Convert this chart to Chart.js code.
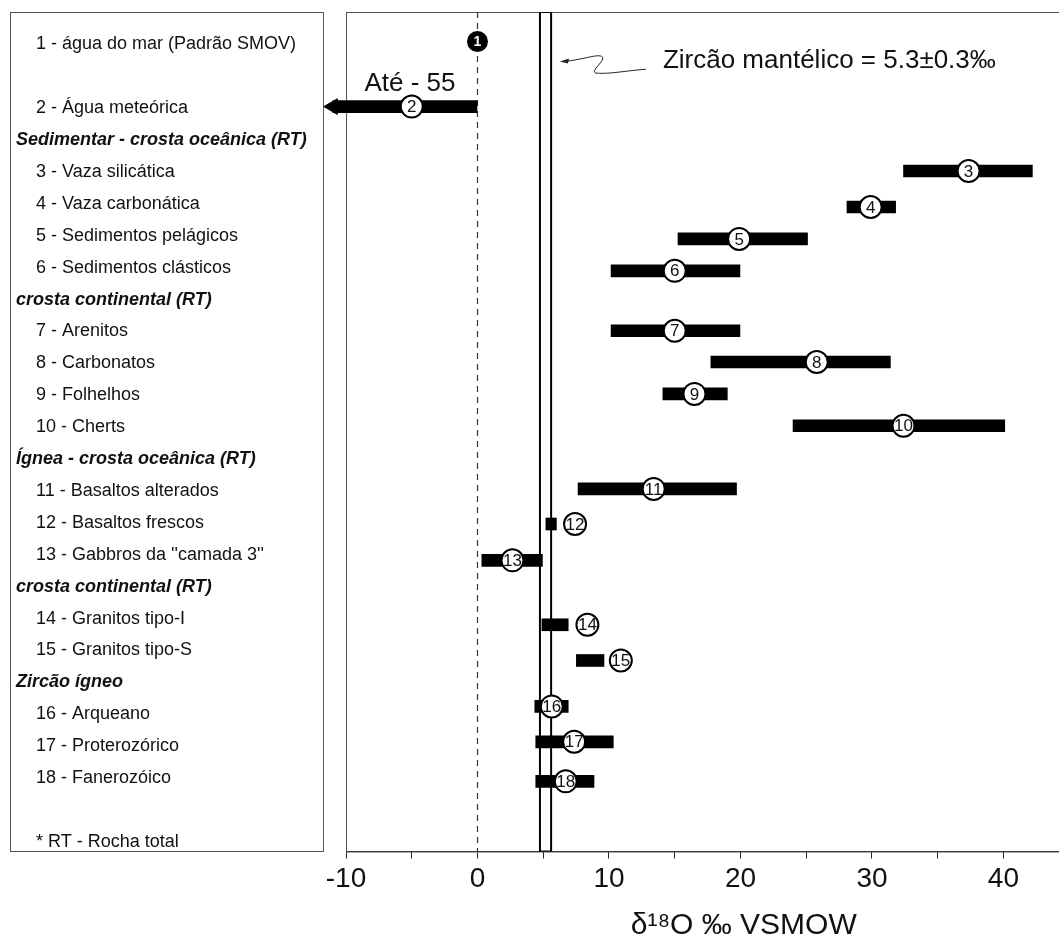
<!DOCTYPE html>
<html>
<head>
<meta charset="utf-8">
<script src="https://cdn.jsdelivr.net/npm/chart.js@4/dist/chart.umd.min.js"></script>
<style>
  html, body { margin: 0; padding: 0; background: #fff; overflow: hidden; }
  #wrap { width: 1059px; height: 938px; overflow: hidden; }
</style>
</head>
<body>
<div id="wrap"><canvas id="chart" width="1145" height="938"></canvas></div>
<script>
// Painel da esquerda: linha de cada rótulo, texto e se é cabeçalho
const labelRows = [0, 2, 3, 4, 5, 6, 7, 8, 9, 10, 11, 12, 13, 14, 15, 16, 17, 18, 19, 20, 21, 22, 23, 25];
const labelTexts = [
    '1 - água do mar (Padrão SMOV)', '2 - Água meteórica',
    'Sedimentar - crosta oceânica (RT)',
    '3 - Vaza silicática', '4 - Vaza carbonática', '5 - Sedimentos pelágicos', '6 - Sedimentos clásticos',
    'crosta continental (RT)',
    '7 - Arenitos', '8 - Carbonatos', '9 - Folhelhos', '10 - Cherts',
    'Ígnea - crosta oceânica (RT)',
    '11 - Basaltos alterados', '12 - Basaltos frescos', "13 - Gabbros da ''camada 3''",
    'crosta continental (RT)',
    '14 - Granitos tipo-I', '15 - Granitos tipo-S',
    'Zircão ígneo',
    '16 - Arqueano', '17 - Proterozórico', '18 - Fanerozóico',
    '* RT - Rocha total'
];
const labelIsHeader = [0, 0, 1, 0, 0, 0, 0, 1, 0, 0, 0, 0, 1, 0, 0, 0, 1, 0, 0, 1, 0, 0, 0, 0];

// Amostras 1–18: linha no gráfico, intervalo de δ18O e valor típico (círculo)
const sampleNumbers = ['1', '2', '3', '4', '5', '6', '7', '8', '9', '10', '11', '12', '13', '14', '15', '16', '17', '18'];
const sampleRows = [-0.09, 1.95, 3.97, 5.1, 6.1, 7.1, 8.98, 9.96, 10.96, 11.96, 13.94, 15.04, 16.18, 18.2, 19.32, 20.76, 21.87, 23.11];
const rangeLow  = [null, -11.0, 32.4, 28.1, 15.25, 10.16, 10.16, 17.75, 14.1, 24.0, 7.65, 5.2, 0.33, 4.9, 7.52, 4.36, 4.43, 4.43];
const rangeHigh = [null, 0, 42.2, 31.8, 25.1, 19.96, 19.96, 31.4, 19.0, 40.1, 19.7, 6.0, 4.94, 6.9, 9.62, 6.9, 10.33, 8.86];
const typical   = [0, -5, 37.35, 29.9, 19.9, 15.0, 15.0, 25.8, 16.5, 32.4, 13.4, 7.42, 2.66, 8.36, 10.9, 5.65, 7.35, 6.71];

// Zircão mantélico (faixa vertical)
const mantleZircon = [4.75, 5.6];
const rowMin = -1.016, rowMax = 25.31;

const FONT = "'Liberation Sans', Arial, sans-serif";

const bars = [];
sampleRows.forEach((r, i) => {
    if (rangeLow[i] !== null) bars.push({ x: [rangeLow[i], rangeHigh[i]], y: r });
});
const circles = sampleRows.map((r, i) => ({ x: typical[i], y: r }));

// Desenha o painel, o quadro, os números nos círculos e as anotações
const panelPlugin = {
    id: 'panel',
    beforeDatasetsDraw(chart) {
        const { ctx, chartArea } = chart;
        ctx.save();
        ctx.strokeStyle = '#555';
        ctx.lineWidth = 1;
        ctx.strokeRect(chartArea.left + 0.5, chartArea.top + 0.5, chartArea.right - chartArea.left, chartArea.bottom - chartArea.top);
        ctx.restore();
    },
    afterDatasetsDraw(chart) {
        const { ctx } = chart;
        const xs = chart.scales.x, ys = chart.scales.y;
        const rowPx = r => 44.4 + r * 31.9;
        ctx.save();
        // caixa dos rótulos
        ctx.strokeStyle = '#555';
        ctx.lineWidth = 1;
        ctx.strokeRect(10.5, 12.5, 313, 839);
        ctx.fillStyle = '#111';
        ctx.textBaseline = 'middle';
        ctx.textAlign = 'left';
        labelTexts.forEach((t, i) => {
            const y = rowPx(labelRows[i]);
            if (labelIsHeader[i]) {
                ctx.font = 'italic bold 18px ' + FONT;
                ctx.fillText(t, 16, y);
            } else {
                ctx.font = '18px ' + FONT;
                ctx.fillText(t, 36, y);
            }
        });
        // números nos círculos
        const meta = chart.getDatasetMeta(3);
        ctx.textAlign = 'center';
        meta.data.forEach((pt, i) => {
            ctx.font = (i === 0 ? 'bold 14px ' : '17px ') + FONT;
            ctx.fillStyle = i === 0 ? '#fff' : '#111';
            ctx.fillText(sampleNumbers[i], pt.x, pt.y + 1);
        });
        // anotação do zircão mantélico
        ctx.fillStyle = '#111';
        ctx.textAlign = 'left';
        ctx.font = '26px ' + FONT;
        ctx.fillText('Zircão mantélico = 5.3±0.3‰', xs.getPixelForValue(14.1), ys.getPixelForValue(0.5));
        ctx.fillText('Até - 55', xs.getPixelForValue(-8.6), ys.getPixelForValue(1.25));
        // seta ondulada
        const P = (x, y) => [xs.getPixelForValue(x), ys.getPixelForValue(y)];
        const a = P(6.35, 0.54), b = P(9.5, 0.33), c = P(9.0, 0.9), d = P(12.8, 0.78);
        ctx.strokeStyle = '#222';
        ctx.lineWidth = 1;
        ctx.beginPath();
        ctx.moveTo(a[0], a[1]);
        ctx.bezierCurveTo(a[0] + 20, a[1] - 1, b[0] - 4, b[1] - 2, b[0], b[1] + 2);
        ctx.bezierCurveTo(b[0] + 3, b[1] + 6, c[0] - 6, c[1] - 2, c[0], c[1]);
        ctx.bezierCurveTo(c[0] + 15, c[1] + 1, d[0] - 25, d[1] + 2, d[0], d[1]);
        ctx.stroke();
        ctx.fillStyle = '#222';
        ctx.beginPath();
        ctx.moveTo(a[0] - 1, a[1]);
        ctx.lineTo(a[0] + 8, a[1] - 3);
        ctx.lineTo(a[0] + 7, a[1] + 2);
        ctx.closePath();
        ctx.fill();
        ctx.restore();
    }
};

const ctx = document.getElementById('chart').getContext('2d');

new Chart(ctx, {
    type: 'bar',
    data: {
        datasets: [
            {
                // linha tracejada em 0
                type: 'line',
                data: [{ x: 0, y: rowMin }, { x: 0, y: rowMax }],
                borderColor: '#333',
                borderWidth: 1.2,
                borderDash: [6, 5],
                pointRadius: 0,
                order: 5
            },
            {
                // faixa do zircão mantélico
                type: 'line',
                data: [
                    { x: mantleZircon[0], y: rowMin }, { x: mantleZircon[1], y: rowMin },
                    { x: mantleZircon[1], y: rowMax }, { x: mantleZircon[0], y: rowMax },
                    { x: mantleZircon[0], y: rowMin }
                ],
                borderColor: '#000',
                borderWidth: 2,
                pointRadius: 0,
                fill: false,
                order: 4
            },
            {
                type: 'bar',
                indexAxis: 'y',
                data: bars,
                backgroundColor: '#000',
                barThickness: 12,
                clip: false,
                order: 3
            },
            {
                type: 'scatter',
                data: circles,
                pointRadius: circles.map((p, i) => i === 0 ? 9.5 : 11),
                pointBackgroundColor: circles.map((p, i) => i === 0 ? '#000' : '#fff'),
                pointBorderColor: '#000',
                pointBorderWidth: 2,
                order: 1
            },
            {
                // ponta da seta da água meteórica
                type: 'scatter',
                data: [{ x: rangeLow[1], y: sampleRows[1] }],
                pointStyle: 'triangle',
                rotation: 270,
                pointRadius: 9,
                pointHoverRadius: 24,
                pointBackgroundColor: '#000',
                pointBorderColor: '#000',
                pointBorderWidth: 1,
                clip: false,
                order: 2
            }
        ]
    },
    options: {
        responsive: false,
        animation: false,
        events: [],
        layout: { autoPadding: false, padding: { left: 346, top: 12, right: 0, bottom: 0 } },
        plugins: {
            legend: { display: false },
            tooltip: { enabled: false }
        },
        scales: {
            x: {
                type: 'linear',
                min: -10,
                max: 50.5,
                offset: false,
                grid: { offset: false, drawOnChartArea: false, drawTicks: true, tickLength: 7, color: '#222' },
                border: { display: true, color: '#222', width: 1 },
                ticks: {
                    stepSize: 5,
                    autoSkip: false,
                    maxRotation: 0,
                    padding: 3.5,
                    color: '#111',
                    font: { family: FONT, size: 28 },
                    callback: v => (v % 10 === 0 && v <= 40) ? String(v) : ''
                },
                title: {
                    display: true,
                    text: 'δ¹⁸O ‰ VSMOW',
                    color: '#111',
                    font: { family: FONT, size: 30, lineHeight: 0.8 },
                    padding: { top: 14.9, bottom: 0 }
                }
            },
            y: {
                type: 'linear',
                reverse: true,
                min: rowMin,
                max: rowMax,
                offset: false,
                grid: { offset: false },
                display: false
            }
        }
    },
    plugins: [panelPlugin]
});
</script>
</body>
</html>
